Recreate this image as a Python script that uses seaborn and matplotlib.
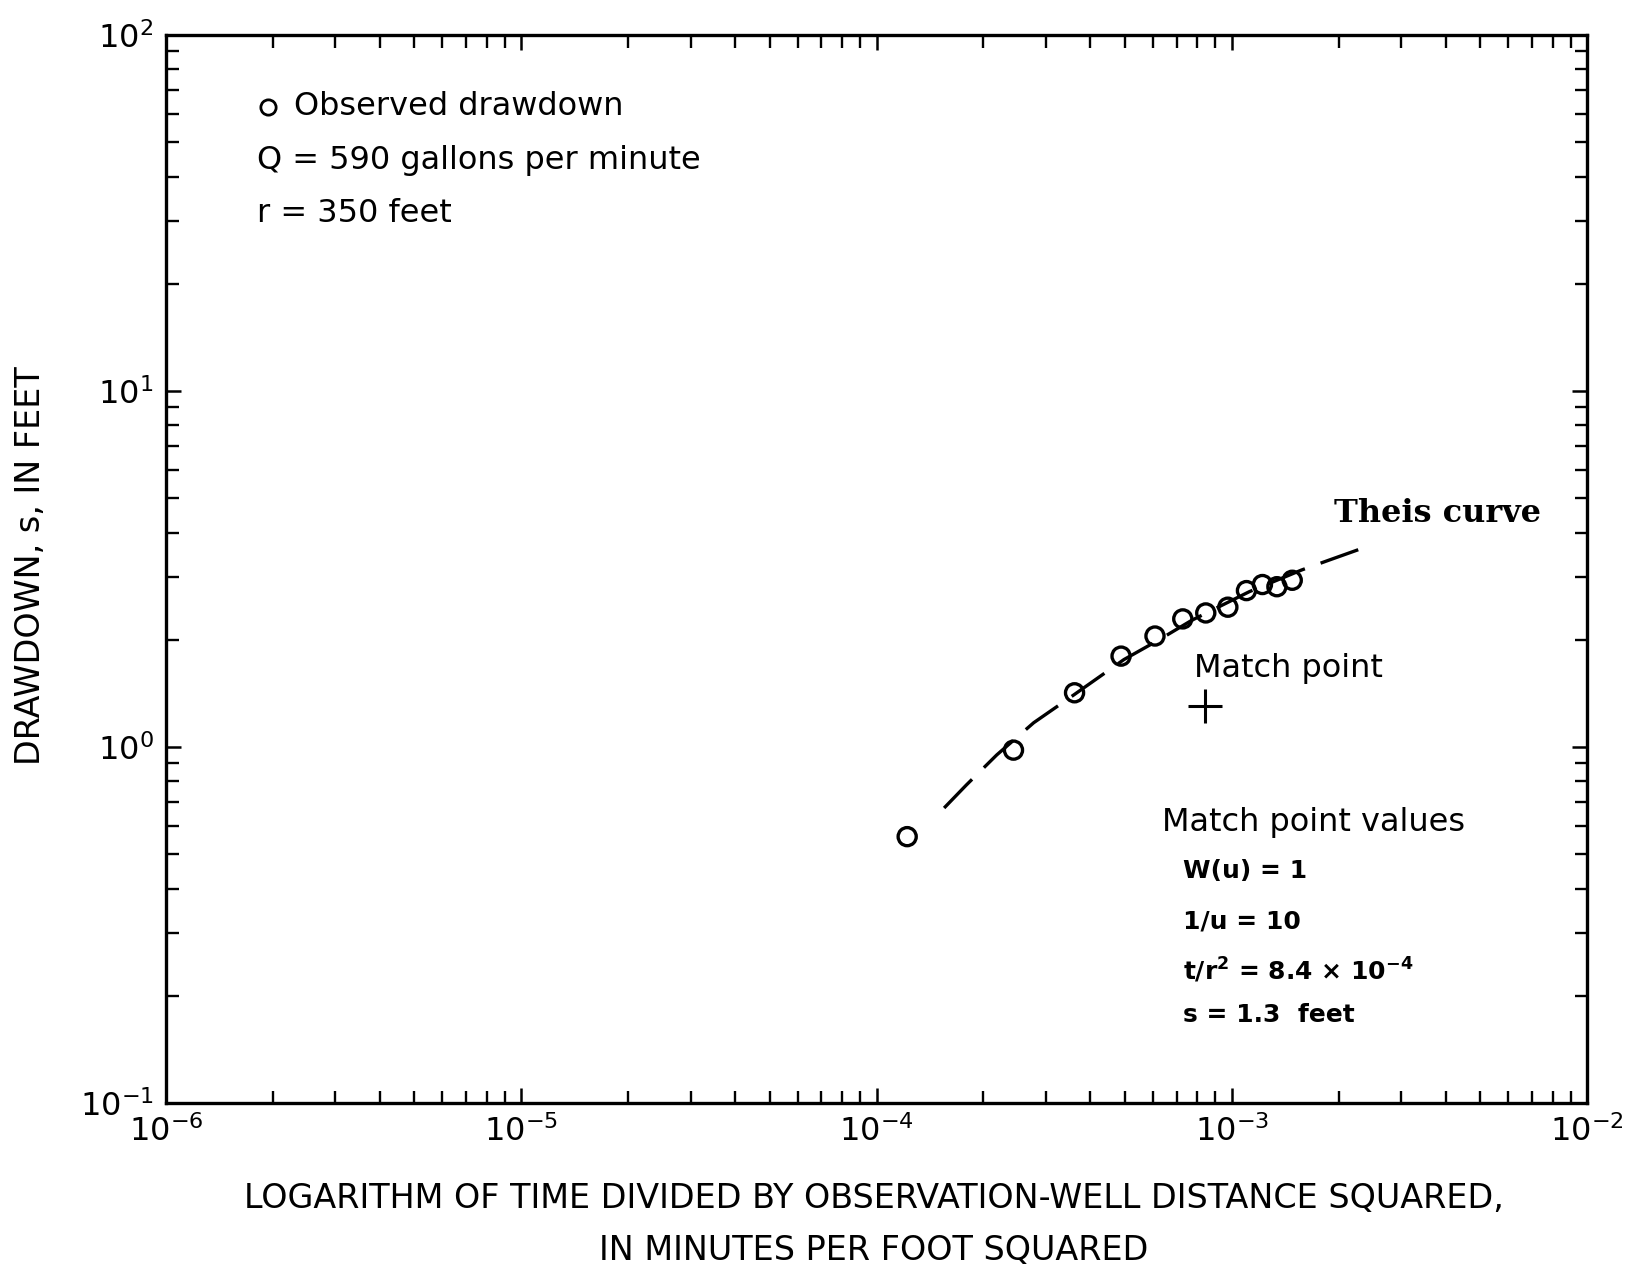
import matplotlib
matplotlib.use("Agg")
import matplotlib.pyplot as plt
import matplotlib.ticker as mticker
import seaborn as sns
import pandas as pd

# Observed drawdown: t/r^2 (min/ft^2) and drawdown (ft)
t_over_r2 = [1.22e-4, 2.43e-4, 3.61e-4, 4.88e-4, 6.08e-4, 7.28e-4,
             8.45e-4, 9.75e-4, 1.10e-3, 1.22e-3, 1.34e-3, 1.48e-3]
drawdown = [0.56, 0.98, 1.42, 1.80, 2.05, 2.29,
            2.38, 2.47, 2.75, 2.86, 2.82, 2.94]

# Theis type curve traced on the same axes
theis_x = [1.55e-4, 1.79e-4, 2.18e-4, 2.77e-4, 3.59e-4, 4.97e-4,
           6.24e-4, 7.72e-4, 1.12e-3, 1.57e-3, 1.88e-3, 2.43e-3]
theis_s = [0.674, 0.782, 0.950, 1.17, 1.40, 1.76,
           2.00, 2.27, 2.73, 3.14, 3.35, 3.67]

# Match point
match_x = [8.4e-4]
match_s = [1.3]

x_ticks = [1e-6, 1e-5, 1e-4, 1e-3, 1e-2]
x_ticklabels = [r"$10^{-6}$", r"$10^{-5}$", r"$10^{-4}$", r"$10^{-3}$", r"$10^{-2}$"]
y_ticks = [1e-1, 1e0, 1e1, 1e2]
y_ticklabels = [r"$10^{-1}$", r"$10^{0}$", r"$10^{1}$", r"$10^{2}$"]

obs = pd.DataFrame({"t_r2": t_over_r2, "s": drawdown})
curve = pd.DataFrame({"t_r2": theis_x, "s": theis_s})

sns.set_style("white")
plt.rcParams["font.family"] = ["DejaVu Sans"]
plt.rcParams["mathtext.fontset"] = "dejavusans"
plt.rcParams["text.color"] = "black"
plt.rcParams["axes.labelcolor"] = "black"
plt.rcParams["xtick.color"] = "black"
plt.rcParams["ytick.color"] = "black"

fig = plt.figure(figsize=(16.45, 12.67), dpi=100)
ax = fig.add_axes([166 / 1645, 1 - 1103 / 1267, 1421 / 1645, 1068 / 1267])

sns.lineplot(data=curve, x="t_r2", y="s", ax=ax, color="black",
             linewidth=2.4, sort=False, estimator=None)
ax.lines[-1].set_linestyle((0, (12, 5)))

sns.scatterplot(data=obs, x="t_r2", y="s", ax=ax, marker="o", s=170,
                facecolor="none", edgecolor="black", linewidth=2.4, zorder=3)

ax.plot(match_x, match_s, marker="+", markersize=24, mew=2.2,
        color="black", linestyle="none")

ax.set_xscale("log")
ax.set_yscale("log")
ax.set_xlim(1e-6, 1e-2)
ax.set_ylim(1e-1, 1e2)
ax.set_xticks(x_ticks)
ax.set_xticklabels(x_ticklabels)
ax.set_yticks(y_ticks)
ax.set_yticklabels(y_ticklabels)
ax.xaxis.set_minor_locator(mticker.LogLocator(base=10, subs=range(2, 10), numticks=20))
ax.yaxis.set_minor_locator(mticker.LogLocator(base=10, subs=range(2, 10), numticks=20))
ax.xaxis.set_minor_formatter(mticker.NullFormatter())
ax.yaxis.set_minor_formatter(mticker.NullFormatter())

ax.tick_params(which="both", direction="in", top=True, right=True,
               bottom=True, left=True, color="black", labelcolor="black")
ax.tick_params(which="major", length=11, width=1.8, labelsize=23, pad=9)
ax.tick_params(which="minor", length=9, width=1.7)
for sp in ax.spines.values():
    sp.set_visible(True)
    sp.set_linewidth(2.4)
    sp.set_color("black")
ax.set_xlabel("")
ax.set_ylabel("")
ax.grid(False)

# Legend-style notes, upper left
ax.plot([0.0718], [0.9326], marker="o", markersize=11, mew=2.0,
        mfc="none", mec="black", transform=ax.transAxes, clip_on=False)
ax.text(0.0901, 0.9326, "Observed drawdown", transform=ax.transAxes,
        fontsize=23, va="center", ha="left")
ax.text(0.0640, 0.8829, "Q = 590 gallons per minute", transform=ax.transAxes,
        fontsize=23, va="center", ha="left")
ax.text(0.0640, 0.8333, "r = 350 feet", transform=ax.transAxes,
        fontsize=23, va="center", ha="left")

# Curve and match point annotations
ax.text(0.8219, 0.5524, "Theis curve", transform=ax.transAxes,
        fontsize=23, fontweight="bold", va="center", ha="left",
        family=["DejaVu Serif"])
ax.text(0.7234, 0.4073, "Match point", transform=ax.transAxes,
        fontsize=23, va="center", ha="left")
ax.text(0.7009, 0.2622, "Match point values", transform=ax.transAxes,
        fontsize=23, va="center", ha="left")
ax.text(0.7157, 0.2172, "W(u) = 1", transform=ax.transAxes,
        fontsize=18, fontweight="bold", va="center", ha="left")
ax.text(0.7157, 0.1704, "1/u = 10", transform=ax.transAxes,
        fontsize=18, fontweight="bold", va="center", ha="left")
ax.text(0.7157, 0.1245, r"t/r$^{\mathbf{2}}$ = 8.4 × 10$^{\mathbf{-4}}$",
        transform=ax.transAxes, fontsize=18, fontweight="bold",
        va="center", ha="left")
ax.text(0.7157, 0.0824, "s = 1.3  feet", transform=ax.transAxes,
        fontsize=18, fontweight="bold", va="center", ha="left")

# Axis titles
fig.text(0.0188, 0.5533, "DRAWDOWN, s, IN FEET", rotation=90,
         fontsize=24, va="center", ha="center")
fig.text(0.531, 0.0537,
         "LOGARITHM OF TIME DIVIDED BY OBSERVATION-WELL DISTANCE SQUARED,",
         fontsize=24, va="center", ha="center")
fig.text(0.531, 0.0134, "IN MINUTES PER FOOT SQUARED",
         fontsize=24, va="center", ha="center")

fig.savefig("out.png", dpi=100, facecolor="white")
